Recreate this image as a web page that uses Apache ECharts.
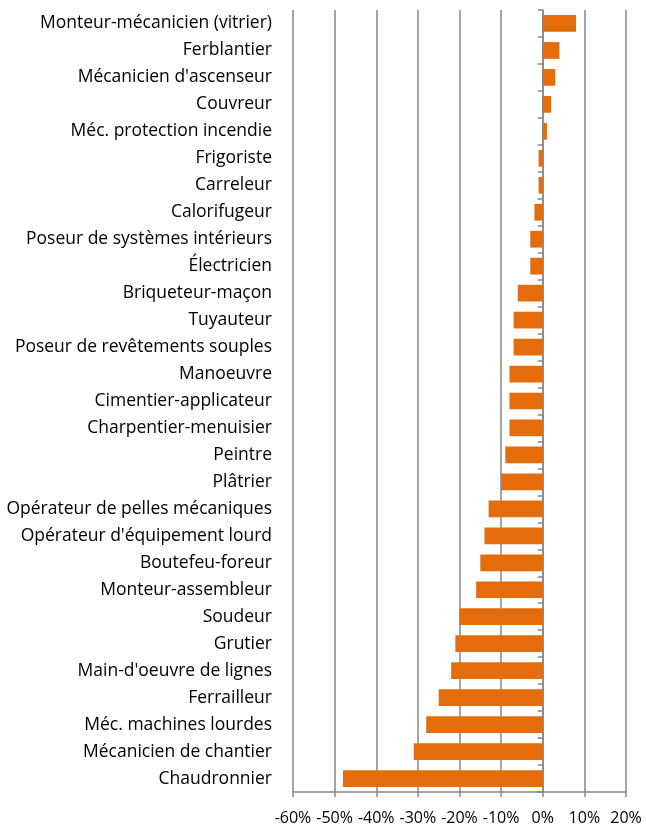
<!DOCTYPE html>
<html><head><meta charset="utf-8">
<script src="https://cdn.jsdelivr.net/npm/echarts@6/dist/echarts.min.js"></script>
<style>html,body{margin:0;padding:0;background:#fff}#c{width:646px;height:826px}</style>
</head><body><div id="c"></div>
<script>
const categories = [
  "Monteur-mécanicien (vitrier)","Ferblantier","Mécanicien d'ascenseur","Couvreur",
  "Méc. protection incendie","Frigoriste","Carreleur","Calorifugeur",
  "Poseur de systèmes intérieurs","Électricien","Briqueteur-maçon","Tuyauteur",
  "Poseur de revêtements souples","Manoeuvre","Cimentier-applicateur","Charpentier-menuisier",
  "Peintre","Plâtrier","Opérateur de pelles mécaniques","Opérateur d'équipement lourd",
  "Boutefeu-foreur","Monteur-assembleur","Soudeur","Grutier","Main-d'oeuvre de lignes",
  "Ferrailleur","Méc. machines lourdes","Mécanicien de chantier","Chaudronnier"
];
const values = [8,4,3,2,1,-1,-1,-2,-3,-3,-6,-7,-7,-8,-8,-8,-9,-10,-13,-14,-15,-16,-20,-21,-22,-25,-28,-31,-48];
const axisMin = -60, axisMax = 20, axisStep = 10;

const gray = '#878787';
const font = 'Open Sans';
const chart = echarts.init(document.getElementById('c'));
chart.setOption({
  animation: false,
  grid: {left: 293, right: 20, top: 10, bottom: 34, containLabel: false},
  xAxis: {
    type: 'value', min: axisMin, max: axisMax, interval: axisStep,
    axisLine: {show: true, lineStyle: {color: gray, width: 1.5}},
    axisTick: {show: true, length: 5, lineStyle: {color: gray, width: 1.5}},
    splitLine: {show: true, lineStyle: {color: gray, width: 1.5}},
    axisLabel: {formatter: '{value}%', color: '#000', fontFamily: font, fontSize: 16, margin: 18}
  },
  yAxis: [{
    type: 'category', data: categories, inverse: true, position: 'left',
    axisLine: {show: false, onZero: false}, axisTick: {show: false},
    axisLabel: {color: '#000', fontFamily: font, fontSize: 17.5, margin: 21}
  },{
    type: 'category', data: categories, inverse: true, position: 'left',
    axisLine: {show: true, onZero: true, lineStyle: {color: gray, width: 1.5}},
    axisTick: {show: true, length: 5, lineStyle: {color: gray, width: 1.5}},
    axisLabel: {show: false}
  }],
  series: [{
    type: 'bar', data: values, yAxisIndex: 0, barCategoryGap: '38%',
    itemStyle: {color: '#E46C0A'}
  }]
});
</script></body></html>
